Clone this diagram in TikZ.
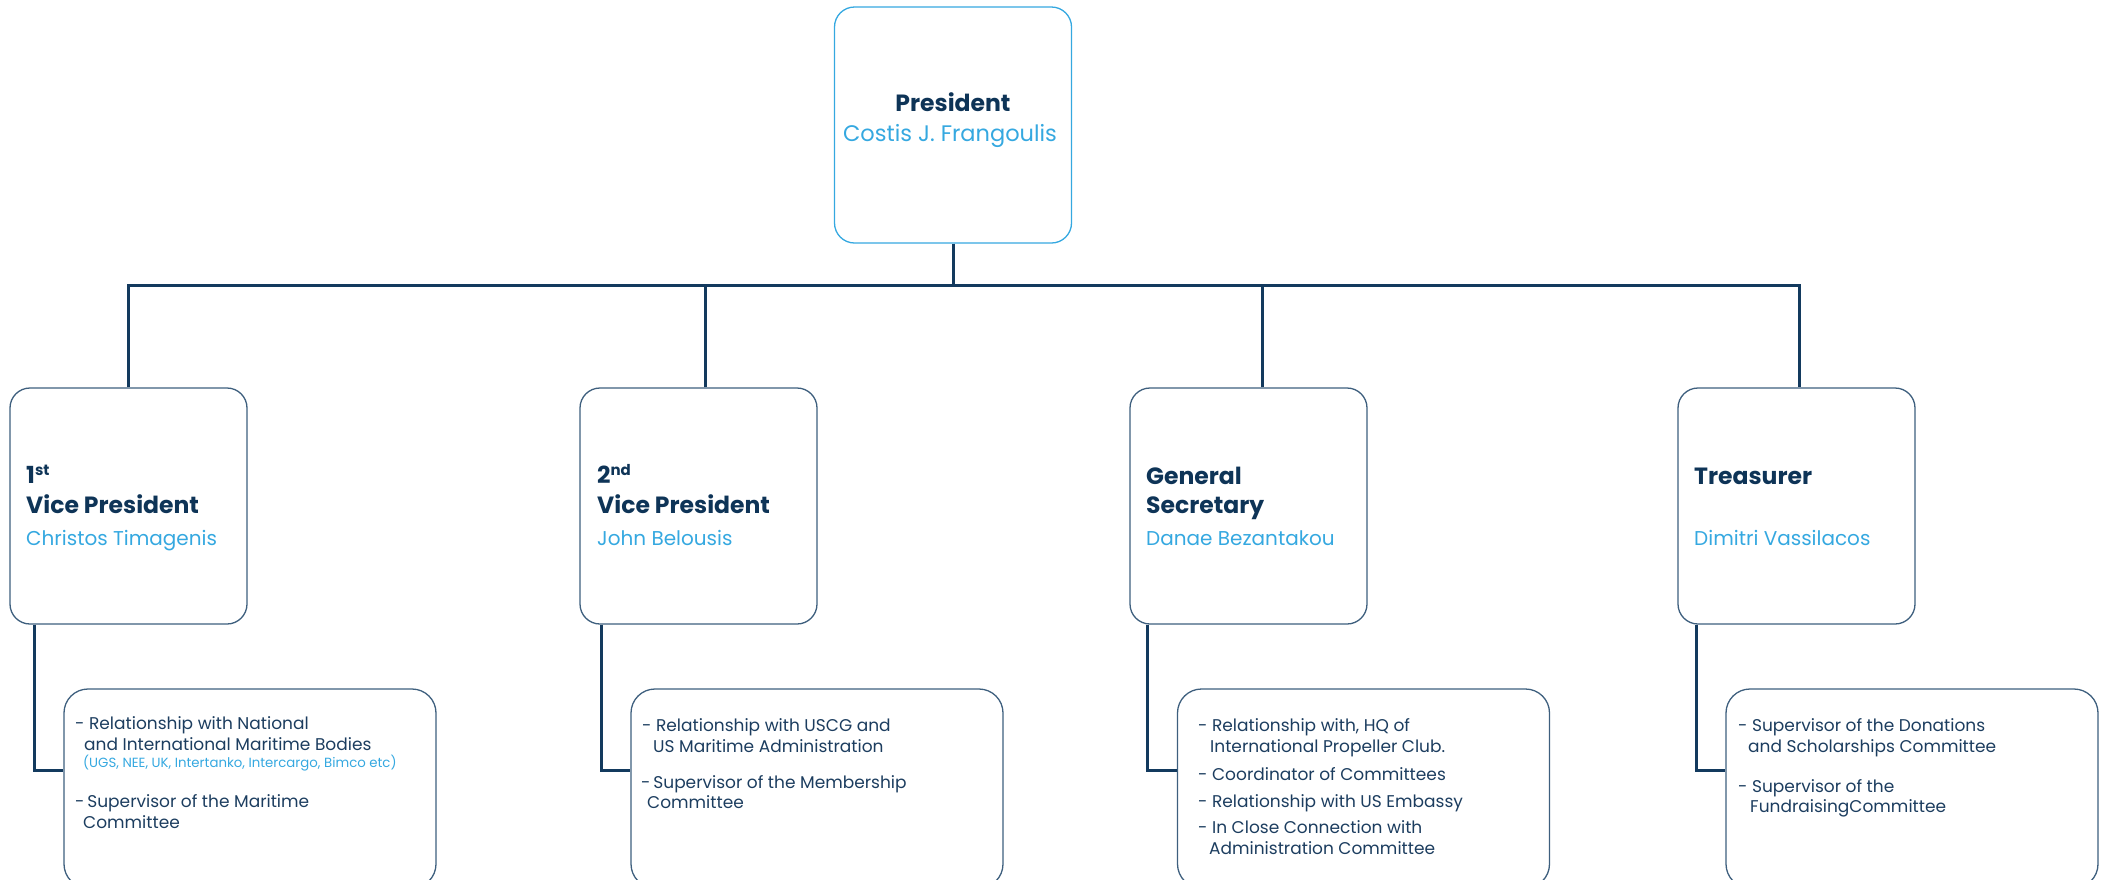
\documentclass[tikz,border=0pt]{standalone}
\usepackage{fontspec}
\setmainfont{Poppins}
\definecolor{navy}{HTML}{0E3457}
\definecolor{sky}{HTML}{35A8E0}
\definecolor{boxline}{HTML}{3E5F7E}
\definecolor{linkc}{HTML}{133A5E}
\definecolor{itemc}{HTML}{1C3D5F}
\newcommand\ttlfnt{\fontsize{23.5}{28}\selectfont\bfseries}
\newcommand\supfnt{\fontsize{15}{17}\selectfont\bfseries}
\newcommand\nmfnt{\fontsize{20}{24}\selectfont}
\newcommand\bignmfnt{\fontsize{22.5}{27}\selectfont}
\newcommand\itmfnt{\fontsize{17}{20}\selectfont}
\newcommand\ntfnt{\fontsize{13.3}{16}\selectfont}
\newcommand\ordsup[1]{\raisebox{7.5pt}{\supfnt #1}}
\tikzset{
  box/.style={draw=boxline, line width=1.3pt, rounded corners=20pt,
    minimum width=237, minimum height=236, inner sep=0pt},
  topbox/.style={box, draw=sky},
  subbox/.style={draw=boxline, line width=1.3pt, rounded corners=24pt,
    minimum width=372, minimum height=199, inner sep=0pt},
  link/.style={draw=linkc, line width=3pt},
  ttl/.style={anchor=base west, inner sep=0pt, text=navy, font=\ttlfnt},
  nm/.style={anchor=base west, inner sep=0pt, text=sky, font=\nmfnt},
  itm/.style={anchor=base west, inner sep=0pt, text=itemc, font=\itmfnt},
  nt/.style={anchor=base west, inner sep=0pt, text=sky, font=\ntfnt},
}
\begin{document}
\begin{tikzpicture}[x=1pt, y=-1pt]
\useasboundingbox (0,0) rectangle (2107,879);
\clip (0,0) rectangle (2107,879);

% boxes
\node[topbox] (pres) at (953,125) {};
\node[box] (vp1) at (128.5,506) {};
\node[box] (vp2) at (698.5,506) {};
\node[box] (gs)  at (1248.5,506) {};
\node[box] (tr)  at (1796.5,506) {};
\node[subbox] (s1) at (250,788.5) {};
\node[subbox] (s2) at (817,788.5) {};
\node[subbox] (s3) at (1363.5,788.5) {};
\node[subbox] (s4) at (1912,788.5) {};

% bus and drops
\coordinate (bus) at (0,285);
\coordinate (d1) at (vp1.north);
\coordinate (d2) at ([xshift=6.5pt]vp2.north);
\coordinate (d3) at ([xshift=13.5pt]gs.north);
\coordinate (d4) at ([xshift=2.5pt]tr.north);
\draw[link] (pres.south) -- (pres.south |- bus);
\draw[link] (d1) -- (d1 |- bus) -- (d4 |- bus) -- (d4);
\draw[link] (d2) -- (d2 |- bus);
\draw[link] (d3) -- (d3 |- bus);

% links to duty boxes
\draw[link] ([xshift=25pt]vp1.south west) |- ([yshift=-82pt]s1.north west);
\draw[link] ([xshift=22pt]vp2.south west) |- ([yshift=-82pt]s2.north west);
\draw[link] ([xshift=18pt]gs.south west) |- ([yshift=-82pt]s3.north west);
\draw[link] ([xshift=19pt]tr.south west) |- ([yshift=-82pt]s4.north west);

% president
\node[ttl, anchor=base] (presT) at (953,111) {President};
\node[nm, anchor=base, font=\bignmfnt] (presN) at (950,141) {Costis J. Frangoulis};

% officers
\node[ttl] (vp1a) at (26,483) {1\ordsup{st}};
\node[ttl] (vp1b) at (26,513) {Vice President};
\node[nm]  (vp1n) at (26,545) {Christos Timagenis};

\node[ttl] (vp2a) at (597,483) {2\ordsup{nd}};
\node[ttl] (vp2b) at (597,513) {Vice President};
\node[nm]  (vp2n) at (597,545) {John Belousis};

\node[ttl] (gsa) at (1146,484) {General};
\node[ttl] (gsb) at (1146,513) {Secretary};
\node[nm]  (gsn) at (1146,545) {Danae Bezantakou};

\node[ttl] (tra) at (1694,484) {Treasurer};
\node[nm]  (trn) at (1694,545) {Dimitri Vassilacos};

% duties: 1st vice president
\node[itm] (a1) at (75,729) {- Relationship with National};
\node[itm] (a2) at (84,750) {and International Maritime Bodies};
\node[nt]  (a3) at (83,767) {(UGS, NEE, UK, Intertanko, Intercargo, Bimco etc)};
\node[itm] (a4) at (75,807) {-\,Supervisor of the Maritime};
\node[itm] (a5) at (83,828) {Committee};

% duties: 2nd vice president
\node[itm] (b1) at (642,731) {- Relationship with USCG and};
\node[itm] (b2) at (653,752) {US Maritime Administration};
\node[itm] (b3) at (641,788) {-\,Supervisor of the Membership};
\node[itm] (b4) at (647,808) {Committee};

% duties: general secretary
\node[itm] (c1) at (1198,731) {- Relationship with, HQ of};
\node[itm] (c2) at (1210,752) {International Propeller Club.};
\node[itm] (c3) at (1198,780) {- Coordinator of Committees};
\node[itm] (c4) at (1198,807) {- Relationship with US Embassy};
\node[itm] (c5) at (1198,833) {- In Close Connection with};
\node[itm] (c6) at (1209,854) {Administration Committee};

% duties: treasurer
\node[itm] (e1) at (1738,731) {- Supervisor of the Donations};
\node[itm] (e2) at (1748,752) {and Scholarships Committee};
\node[itm] (e3) at (1738,792) {- Supervisor of the};
\node[itm] (e4) at (1750,812) {FundraisingCommittee};
\end{tikzpicture}
\end{document}
